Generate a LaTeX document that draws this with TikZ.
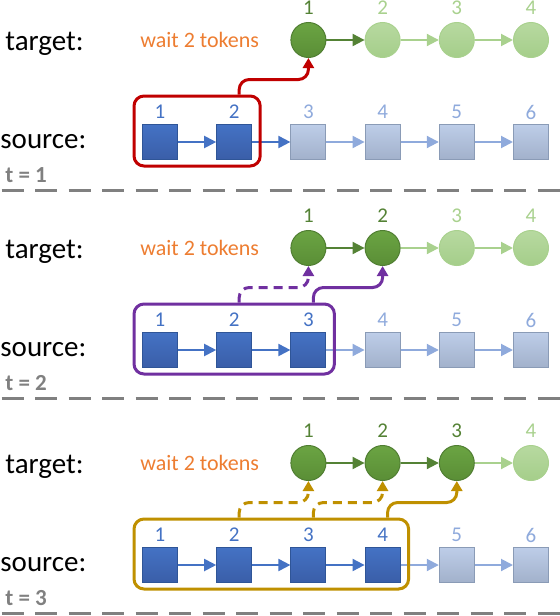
\documentclass[tikz,border=0pt]{standalone}
\usepackage{fontspec}
\setmainfont{Carlito}
\usetikzlibrary{arrows.meta,positioning,calc,fit}
\definecolor{srcdark}{HTML}{4472C4}
\definecolor{srcdarkb}{HTML}{3A5EA8}
\definecolor{srcline}{HTML}{2F5597}
\definecolor{srclight}{HTML}{BDCDE8}
\definecolor{srclightb}{HTML}{A2B1CB}
\definecolor{srclightline}{HTML}{8A9BB6}
\definecolor{srclabel}{HTML}{8FAADC}
\definecolor{tgtdark}{HTML}{6BA443}
\definecolor{tgtdarkb}{HTML}{5A8E36}
\definecolor{tgtline}{HTML}{507E32}
\definecolor{tgtlight}{HTML}{B7D9A0}
\definecolor{tgtlightb}{HTML}{A5CE8A}
\definecolor{tgtlabel}{HTML}{548235}
\definecolor{tgtfaint}{HTML}{A9D18E}
\definecolor{waitorange}{HTML}{ED7D31}
\definecolor{boxred}{HTML}{C00000}
\definecolor{boxpurple}{HTML}{7030A0}
\definecolor{boxgold}{HTML}{BF9000}
\definecolor{sepgrey}{HTML}{808080}

\begin{document}
\begin{tikzpicture}[x=0.5pt,y=-0.5pt,
	token/.style={minimum size=17.5pt,inner sep=0,line width=0.5pt},
	num/.style={inner sep=0,font=\fontsize{10.5}{12}\selectfont},
	row text/.style={anchor=base west,inner sep=0,font=\fontsize{14.5}{17}\selectfont},
	chain/.style={-{Triangle[length=6pt,width=6pt]},line width=1pt},
	link/.style={-{Triangle[length=5pt,width=5.5pt]},line width=1.5pt,rounded corners=5pt},
	pending/.style={dash pattern=on 4.5pt off 3pt},
	panel box/.style={line width=1.5pt,rounded corners=5pt,inner sep=0},
	separator/.style={sepgrey,line width=1.5pt,dash pattern=on 11pt off 5.75pt}]
	\useasboundingbox (0,0) rectangle (560,616);

	\foreach \off/\ns/\nt/\na/\nb/\col/\tv in {0/2/1/2/1/boxred/1, 208/3/2/2/1/boxpurple/2, 423/4/3/3/2/boxgold/3}{
	\begin{scope}[shift={(0,\off)}]
		% row captions
		\node[row text] (target\tv) at (5,50) {target:};
		\node[row text] (source\tv) at (0,148) {source:};
		\node[anchor=base west,inner sep=0,text=sepgrey,font=\fontsize{11.5}{13}\selectfont\bfseries] (time\tv) at (5,182) {t = \tv};
		\node[anchor=base west,inner sep=0,text=waitorange,font=\fontsize{11}{13}\selectfont] (wait\tv) at (140,47) {wait 2 tokens};

		% source tokens
		\foreach \i in {1,...,6}{
			\ifnum\i>\ns
				\def\tc{srclight}\def\bc{srclightb}\def\dc{srclightline}\def\lc{srclabel}
			\else
				\def\tc{srcdark}\def\bc{srcdarkb}\def\dc{srcline}\def\lc{srcdark}
			\fi
			\node[token,draw=\dc,top color=\tc,bottom color=\bc] (s\tv-\i) at ({160+74.2*(\i-1)},142) {};
			\node[num,text=\lc] (sl\tv-\i) at ({160+74.2*(\i-1)},112) {\i};
		}
		\foreach \i [count=\j from 2] in {1,...,5}{
			\ifnum\i>\na \def\ac{srclabel}\else\def\ac{srcdark}\fi
			\draw[chain,\ac] (s\tv-\i) -- (s\tv-\j);
		}

		% target tokens
		\foreach \i in {1,...,4}{
			\ifnum\i>\nt
				\def\tc{tgtlight}\def\bc{tgtlightb}\def\dc{tgtfaint}\def\lc{tgtfaint}
			\else
				\def\tc{tgtdark}\def\bc{tgtdarkb}\def\dc{tgtline}\def\lc{tgtlabel}
			\fi
			\node[token,circle,draw=\dc,top color=\tc,bottom color=\bc] (t\tv-\i) at ({160+74.2*(\i+1)},40) {};
			\node[num,text=\lc] (tl\tv-\i) at ({160+74.2*(\i+1)},8) {\i};
		}
		\foreach \i [count=\j from 2] in {1,2,3}{
			\ifnum\i>\nb \def\ac{tgtfaint}\else\def\ac{tgtlabel}\fi
			\draw[chain,\ac] (t\tv-\i) -- (t\tv-\j);
		}

		% window of read tokens
		\node[panel box,draw=\col,fit={($(s\tv-1.south west)+(-8,6)$) ($(s\tv-\ns.north east)+(8,-28)$)}] (box\tv) {};
		\foreach \j in {1,...,\nt}{
			\pgfmathtruncatemacro\k{\j+1}
			\ifnum\j<\nt \def\ls{pending}\else\def\ls{solid}\fi
			\draw[link,\col,\ls] ($(box\tv.north -| s\tv-\k)+(5,0)$) -- ++(0,-15) -| (t\tv-\j.south);
		}

		\draw[separator] (1.5,190) -- (560,190);
	\end{scope}
	}
\end{tikzpicture}
\end{document}
